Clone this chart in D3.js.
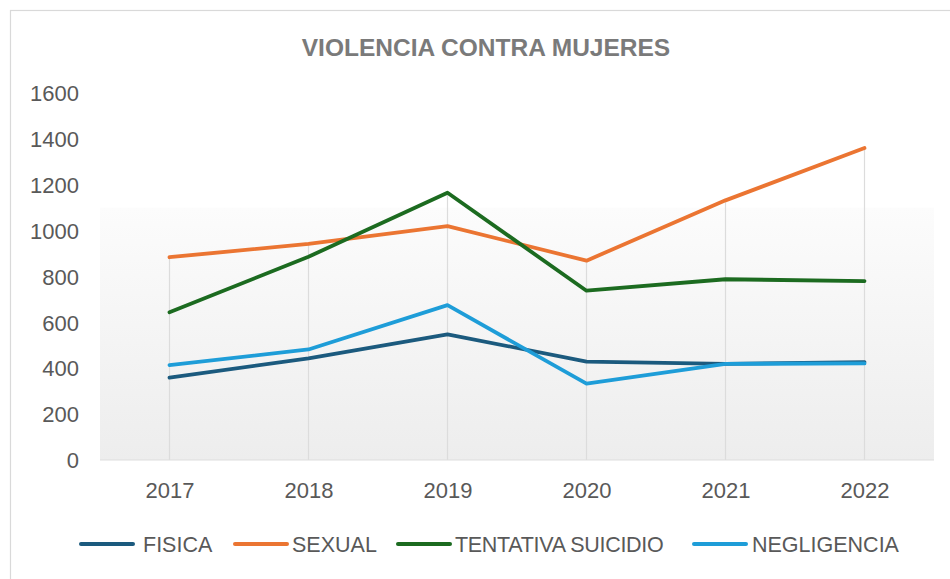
<!DOCTYPE html>
<html><head><meta charset="utf-8">
<script src="https://cdn.jsdelivr.net/npm/d3@7"></script>
<style>body{margin:0;background:#fff;}svg{display:block;}</style>
</head><body>
<svg id="chart" width="950" height="579"></svg>
<script>
const years = ["2017","2018","2019","2020","2021","2022"];
const fisica = [359, 443, 548, 429, 419, 427];
const sexual = [884, 942, 1020, 869, 1132, 1360];
const tentativa = [644, 886, 1165, 738, 788, 780];
const negligencia = [414, 482, 675, 333, 419, 421];
const seriesNames = ["FISICA","SEXUAL","TENTATIVA SUICIDIO","NEGLIGENCIA"];
const seriesColors = ["#1B5A7E","#EB7532","#1C6B20","#1E9DD8"];
const yTicks = [0,200,400,600,800,1000,1200,1400,1600];
const title = "VIOLENCIA CONTRA MUJERES";

const series = [fisica, sexual, tentativa, negligencia].map((v,i)=>({name:seriesNames[i], color:seriesColors[i], values:v}));

const svg = d3.select("#chart");
const font = "'Liberation Sans', Arial, sans-serif";

svg.append("rect").attr("x",10.5).attr("y",10.5).attr("width",960).attr("height",600)
  .attr("fill","#fff").attr("stroke","#d9d9d9").attr("stroke-width",1.2);

const plot = {left:100, right:934, top:93, bottom:460};
const x = d3.scalePoint().domain(years).range([plot.left, plot.right]).padding(0.5);
const y = d3.scaleLinear().domain([0,1600]).range([plot.bottom, plot.top]);

// background gradient band
const defs = svg.append("defs");
const grad = defs.append("linearGradient").attr("id","bg").attr("x1",0).attr("y1",0).attr("x2",0).attr("y2",1);
grad.append("stop").attr("offset","0%").attr("stop-color","#fcfcfc");
grad.append("stop").attr("offset","100%").attr("stop-color","#ededed");
svg.append("rect").attr("x",plot.left).attr("y",y(1100)).attr("width",plot.right-plot.left)
  .attr("height",plot.bottom-y(1100)).attr("fill","url(#bg)");

// drop lines
svg.append("g").selectAll("line").data(years).join("line")
  .attr("x1",d=>x(d)).attr("x2",d=>x(d))
  .attr("y1",(d,i)=>y(d3.max(series,s=>s.values[i])))
  .attr("y2",y(0)).attr("stroke","#dcdcdc").attr("stroke-width",1.2);

// x-axis baseline
svg.append("line").attr("x1",plot.left).attr("x2",plot.right).attr("y1",y(0)).attr("y2",y(0))
  .attr("stroke","#dedede").attr("stroke-width",1.2);

// y axis
const yAxis = svg.append("g").attr("transform",`translate(79,0)`)
  .call(d3.axisLeft(y).tickValues(yTicks).tickSize(0).tickPadding(0).tickFormat(d3.format("d")));
yAxis.select(".domain").remove();
yAxis.selectAll("text").attr("font-family",font).attr("font-size","22px").attr("fill","#595959").attr("dy","0.35em");

// x axis
const xAxis = svg.append("g").attr("transform",`translate(0,${y(0)})`)
  .call(d3.axisBottom(x).tickSize(0).tickPadding(0));
xAxis.select(".domain").remove();
xAxis.selectAll("text").attr("font-family",font).attr("font-size","22px").attr("fill","#595959").attr("y",30).attr("dy","0.35em");

// lines
const line = d3.line().x((d,i)=>x(years[i])).y(d=>y(d));
svg.append("g").selectAll("path").data(series).join("path")
  .attr("d",d=>line(d.values)).attr("fill","none").attr("stroke",d=>d.color)
  .attr("stroke-width",3.8).attr("stroke-linejoin","round").attr("stroke-linecap","round");

// title
svg.append("text").attr("x",486).attr("y",47).attr("dy","0.35em").attr("text-anchor","middle")
  .attr("font-family",font).attr("font-weight","bold").attr("font-size","24.5px").attr("fill","#7a7a7a")
  .text(title);

// legend
const legX = [81, 235, 398, 694];
const leg = svg.append("g").selectAll("g").data(series).join("g")
  .attr("transform",(d,i)=>`translate(${legX[i]},544)`);
leg.append("line").attr("x1",0).attr("x2",52).attr("y1",0).attr("y2",0)
  .attr("stroke",d=>d.color).attr("stroke-width",4).attr("stroke-linecap","round");
leg.append("text").attr("x",(d,i)=>i===0?62:(i===3?58:57)).attr("dy","0.35em")
  .attr("font-family",font).attr("font-size","21.5px").attr("fill","#595959")
  .attr("letter-spacing",(d,i)=>i===2?"-0.3px":"0px")
  .text(d=>d.name);
</script>
</body></html>
